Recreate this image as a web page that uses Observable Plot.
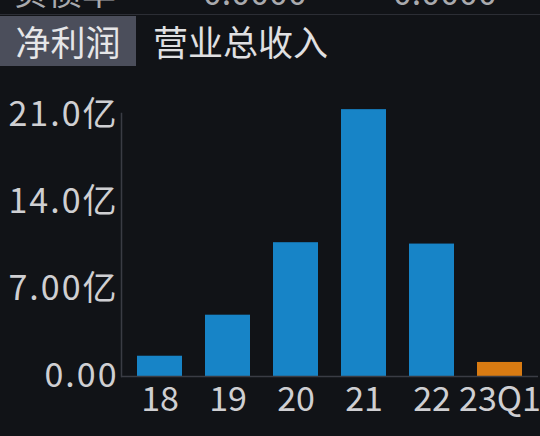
<!DOCTYPE html>
<html>
<head>
<meta charset="utf-8">
<script src="https://cdn.jsdelivr.net/npm/d3@7"></script>
<script src="https://cdn.jsdelivr.net/npm/@observablehq/plot@0.6"></script>
<style>
  html, body { margin: 0; padding: 0; background: #111317; overflow: hidden; width: 540px; height: 436px; }
  body { font-family: "Noto Sans CJK SC", "Noto Sans", sans-serif; color: #d2d2d4; }
  #strip { position: relative; height: 14px; overflow: hidden; }
  #strip span { position: absolute; top: -26px; height: 34px; line-height: 34px; font-size: 34px; color: #a9aaae; white-space: nowrap; }
  #sep { height: 1px; background: #2c2e35; margin-bottom: 1px; }
  #tabs { height: 50px; position: relative; }
  .tab { position: absolute; top: 0; height: 50px; line-height: 50px; white-space: nowrap; }
  #tab1 { left: 0; width: 136px; background: #4b4e5b; text-align: center; color: #e6e6e8; font-size: 35px; }
  #tab2 { left: 153px; color: #e0e0e2; font-size: 35px; }
  #chart svg { display: block; }
</style>
</head>
<body>
<div id="strip"><span style="left:14px">负债率</span><span style="left:203px">0.0000</span><span style="left:393px">0.0000</span></div>
<div id="sep"></div>
<div id="tabs"><div class="tab" id="tab1">净利润</div><div class="tab" id="tab2">营业总收入</div></div>
<div id="chart"></div>
<script>
const categories = ["18", "19", "20", "21", "22", "23Q1"];
const values = [1.63, 4.93, 10.76, 21.46, 10.65, 1.13];   // 亿
const periodType = ["年", "年", "年", "年", "年", "季"];
const yTicks = [0, 7, 14, 21];
const yTickLabels = ["0.00", "7.00亿", "14.0亿", "21.0亿"];

const data = categories.map((c, i) => ({cat: c, value: values[i], type: periodType[i]}));
const labelOf = new Map(yTicks.map((t, i) => [t, yTickLabels[i]]));

const chart = Plot.plot({
  width: 540,
  height: 370,
  marginLeft: 121,
  marginRight: 2,
  marginTop: 47,
  marginBottom: 60,
  style: {background: "#111317", color: "#cfcfd2", fontFamily: "\"Noto Sans CJK SC\", sans-serif", fontSize: "34px", overflow: "visible"},
  x: {domain: categories, paddingInner: 0.345, paddingOuter: 0.2, label: null},
  y: {domain: [0, 21.15], label: null},
  color: {domain: ["年", "季"], range: ["#1784c7", "#d97b12"]},
  marks: [
    Plot.barY(data, {x: "cat", y: "value", fill: "type"}),
    Plot.frame({anchor: "left", stroke: "#3a3c44", strokeWidth: 1.5}),
    Plot.ruleY([0], {stroke: "#3a3c44", strokeWidth: 1.5}),
    Plot.axisY({ticks: yTicks, tickSize: 0, tickPadding: 3, tickFormat: d => labelOf.get(d), fontSize: 34, fill: "#cfcfd2", label: null}),
    Plot.axisX({tickSize: 0, tickPadding: 10, fontSize: 34, fill: "#cfcfd2", label: null})
  ]
});
chart.querySelectorAll('[aria-label="y-axis tick label"] text').forEach(t => t.style.letterSpacing = "2px");
document.getElementById("chart").appendChild(chart);
</script>
</body>
</html>
